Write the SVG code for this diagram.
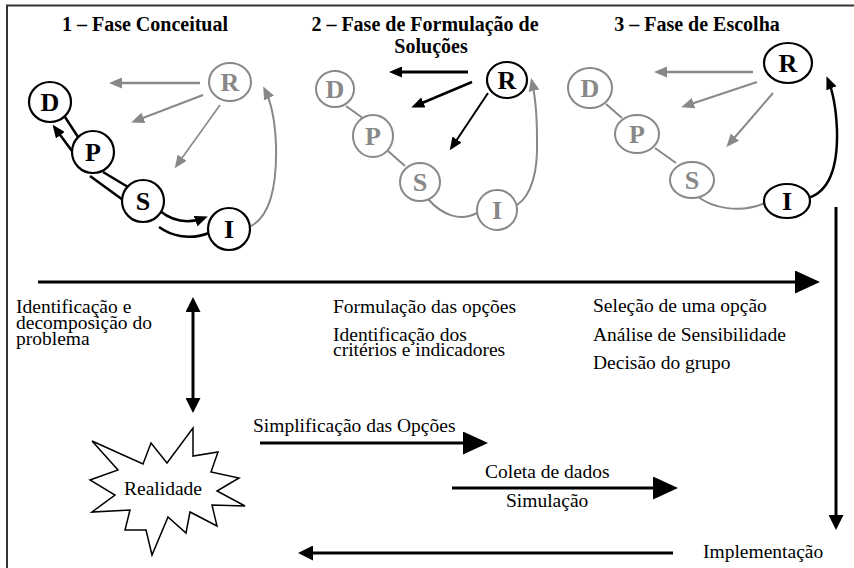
<svg xmlns="http://www.w3.org/2000/svg" width="854" height="568" viewBox="0 0 854 568">
<style>
  .t { font-family: "Liberation Serif", "Times New Roman", serif; font-size: 19.5px; fill: #000; }
  .h { font-family: "Liberation Serif", "Times New Roman", serif; font-size: 20px; font-weight: bold; fill: #000; text-anchor: middle; }
  .cb { fill: #fff; stroke: #000; stroke-width: 2.2; }
  .cg { fill: #fff; stroke: #888; stroke-width: 2; }
  .lb { font-family: "Liberation Serif", "Times New Roman", serif; font-size: 26px; font-weight: bold; fill: #000; text-anchor: middle; }
  .lg { font-family: "Liberation Serif", "Times New Roman", serif; font-size: 26px; font-weight: bold; fill: #888; text-anchor: middle; }
  .kb { fill: none; stroke: #000; stroke-width: 2.5; }
  .kg { fill: none; stroke: #888; stroke-width: 2; }
  .big { fill: none; stroke: #000; stroke-width: 3; }
</style>
<defs>
  <marker id="ak" markerUnits="userSpaceOnUse" markerWidth="13" markerHeight="11" refX="9" refY="5.5" orient="auto">
    <path d="M0,0 L13,5.5 L0,11 z" fill="#000"/>
  </marker>
  <marker id="ag" markerUnits="userSpaceOnUse" markerWidth="13" markerHeight="11" refX="9" refY="5.5" orient="auto">
    <path d="M0,0 L13,5.5 L0,11 z" fill="#888"/>
  </marker>
  <marker id="abig" markerUnits="userSpaceOnUse" markerWidth="25" markerHeight="23" refX="12" refY="11.5" orient="auto">
    <path d="M0,0 L25,11.5 L0,23 z" fill="#000"/>
  </marker>
  <marker id="amed" markerUnits="userSpaceOnUse" markerWidth="15" markerHeight="15" refX="7" refY="7.5" orient="auto-start-reverse">
    <path d="M0,0 L15,7.5 L0,15 z" fill="#000"/>
  </marker>
</defs>

<!-- frame -->
<g id="frame" stroke="#333" stroke-width="2" fill="none">
  <line x1="6" y1="5.5" x2="854" y2="5.5"/>
  <line x1="7" y1="5" x2="7" y2="568"/>
</g>

<!-- titles -->
<g id="titles">
  <text class="h" x="145" y="31">1 – Fase Conceitual</text>
  <text class="h" x="425" y="31">2 – Fase de Formulação de</text>
  <text class="h" x="431" y="53">Soluções</text>
  <text class="h" x="697" y="31">3 – Fase de Escolha</text>
</g>

<g id="connectors">
  <!-- phase 1 -->
  <line class="kb" x1="65" y1="117" x2="78" y2="137"/>
  <path class="kb" d="M72,151 L55,128" marker-end="url(#ak)"/>
  <line class="kb" x1="103" y1="172" x2="128" y2="187"/>
  <line class="kb" x1="90" y1="176" x2="123" y2="200"/>
  <path class="kb" d="M160,211 Q180,227 204,218" marker-end="url(#ak)"/>
  <path class="kb" d="M159,227 C170,235 188,241 209,233"/>
  <path class="kg" d="M200,83 L113,83" marker-end="url(#ag)" style="stroke-width:2.5"/>
  <path class="kg" d="M203,95 L135,121" marker-end="url(#ag)"/>
  <path class="kg" d="M220,105 L177,165" marker-end="url(#ag)" style="stroke-width:1.6"/>
  <path class="kg" d="M251,226 C270,216 277,185 276,145 C275,118 271,102 265,90" marker-end="url(#ag)"/>
  <!-- phase 2 -->
  <line class="kg" x1="346" y1="106" x2="364" y2="119"/>
  <line class="kg" x1="388" y1="151" x2="405" y2="166"/>
  <path class="kg" d="M428,199 C442,215 460,222 477,213"/>
  <path class="kg" d="M517,205 C532,195 538,170 537,140 C537,112 535,95 532,82" marker-end="url(#ag)"/>
  <path class="kb" d="M468,72 L393,72" marker-end="url(#ak)" style="stroke-width:3"/>
  <path class="kb" d="M472,82 L415,106" marker-end="url(#ak)"/>
  <path class="kb" d="M488,93 L452,147" marker-end="url(#ak)" style="stroke-width:2"/>
  <!-- phase 3 -->
  <line class="kg" x1="606" y1="104" x2="622" y2="118"/>
  <line class="kg" x1="655" y1="148" x2="676" y2="163"/>
  <path class="kg" d="M697,196 C712,208 740,214 765,203"/>
  <path class="kg" d="M753,72 L658,72" marker-end="url(#ag)" style="stroke-width:2.5"/>
  <path class="kg" d="M757,82 L685,106" marker-end="url(#ag)"/>
  <path class="kg" d="M773,93 L729,144" marker-end="url(#ag)"/>
  <path class="kb" d="M808,198 C828,192 838,170 837,130 C836,106 833,92 828,80" marker-end="url(#ak)"/>
  <!-- lower part -->
  <path class="big" d="M38,282 L807,282" marker-end="url(#abig)"/>
  <path class="big" d="M836,207 L836,522" marker-end="url(#amed)"/>
  <path class="big" d="M193,305 L193,405" marker-start="url(#amed)" marker-end="url(#amed)"/>
  <path class="big" d="M260,443 L475,443" marker-end="url(#abig)"/>
  <path class="big" d="M452,488 L665,488" marker-end="url(#abig)"/>
  <path class="big" d="M673,553 L306,553" marker-end="url(#amed)"/>
</g>

<!-- phase 1 nodes -->
<g id="p1-D"><ellipse class="cb" cx="50" cy="102" rx="21" ry="20"/><text class="lb" x="50" y="111">D</text></g>
<g id="p1-P"><ellipse class="cb" cx="93" cy="152" rx="21" ry="21"/><text class="lb" x="93" y="161">P</text></g>
<g id="p1-S"><ellipse class="cb" cx="143" cy="201" rx="21" ry="21"/><text class="lb" x="143" y="210">S</text></g>
<g id="p1-I"><ellipse class="cb" cx="229" cy="229" rx="21" ry="21"/><text class="lb" x="229" y="238">I</text></g>
<g id="p1-R"><ellipse class="cg" cx="230" cy="82" rx="21" ry="19"/><text class="lg" x="230" y="91">R</text></g>

<!-- phase 2 nodes -->
<g id="p2-D"><ellipse class="cg" cx="335" cy="89" rx="19" ry="18"/><text class="lg" x="335" y="98">D</text></g>
<g id="p2-P"><ellipse class="cg" cx="373" cy="136" rx="20" ry="21"/><text class="lg" x="373" y="145">P</text></g>
<g id="p2-S"><ellipse class="cg" cx="420" cy="182" rx="20" ry="19"/><text class="lg" x="420" y="191">S</text></g>
<g id="p2-I"><ellipse class="cg" cx="497" cy="210" rx="20" ry="20"/><text class="lg" x="497" y="219">I</text></g>
<g id="p2-R"><ellipse class="cb" cx="507" cy="80" rx="20" ry="18"/><text class="lb" x="507" y="89">R</text></g>

<!-- phase 3 nodes -->
<g id="p3-D"><ellipse class="cg" cx="590" cy="88" rx="22" ry="20"/><text class="lg" x="590" y="97">D</text></g>
<g id="p3-P"><ellipse class="cg" cx="637" cy="134" rx="22" ry="19"/><text class="lg" x="637" y="143">P</text></g>
<g id="p3-S"><ellipse class="cg" cx="692" cy="180" rx="22" ry="18"/><text class="lg" x="692" y="189">S</text></g>
<g id="p3-I"><ellipse class="cb" cx="787" cy="201" rx="23" ry="17"/><text class="lb" x="787" y="210">I</text></g>
<g id="p3-R"><ellipse class="cb" cx="788" cy="63" rx="24" ry="20"/><text class="lb" x="788" y="72">R</text></g>

<!-- Realidade -->
<g id="realidade">
  <polygon fill="#fff" stroke="#000" stroke-width="1.5" stroke-linejoin="miter" points="92,441 143,464 151,443 167,463 193,428 193,456 218,452 211,472 239,478 217,491 245,506 212,505 217,526 190,512 186,533 168,517 152,555 146,530 125,530 130,510 92,512 115,495 90,480 118,470"/>
  <text class="t" x="163" y="495" text-anchor="middle">Realidade</text>
</g>

<!-- labels -->
<g id="labels">
  <text class="t" x="16" y="313">Identificação e</text>
  <text class="t" x="16" y="329">decomposição do</text>
  <text class="t" x="16" y="345">problema</text>
  <text class="t" x="333" y="313">Formulação das opções</text>
  <text class="t" x="333" y="341">Identificação dos</text>
  <text class="t" x="333" y="356">critérios e indicadores</text>
  <text class="t" x="593" y="312">Seleção de uma opção</text>
  <text class="t" x="593" y="341">Análise de Sensibilidade</text>
  <text class="t" x="593" y="369">Decisão do grupo</text>
  <text class="t" x="253" y="432">Simplificação das Opções</text>
  <text class="t" x="485" y="478">Coleta de dados</text>
  <text class="t" x="506" y="507">Simulação</text>
  <text class="t" x="703" y="558">Implementação</text>
</g>
</svg>
